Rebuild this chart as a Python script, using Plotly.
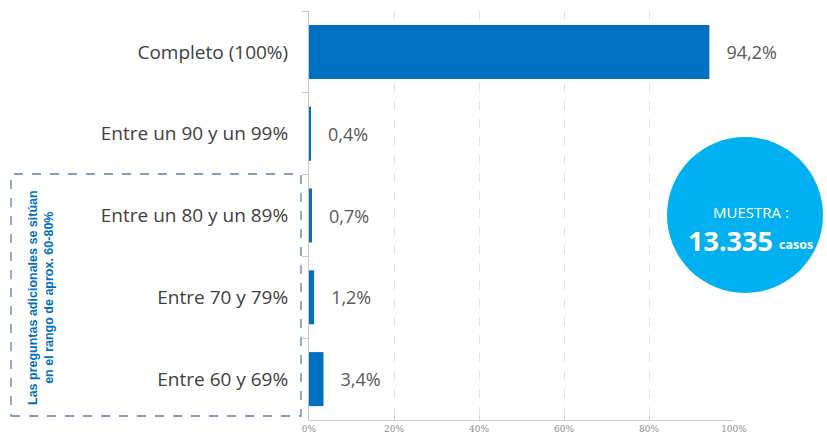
import plotly.graph_objects as go

categories = ["Completo (100%)", "Entre un 90 y un 99%", "Entre un 80 y un 89%",
              "Entre 70 y 79%", "Entre 60 y 69%"]
values = [94.2, 0.4, 0.7, 1.2, 3.4]
x_ticks = [0, 20, 40, 60, 80, 100]
x_ticklabels = ["0%", "20%", "40%", "60%", "80%", "100%"]
labels = ["\u00a0\u00a0\u00a0" + f"{v:.1f}".replace(".", ",") + "%" for v in values]

W, H = 827, 439
L, R, T, B = 309, 93, 11, 19
pw, ph = W - L - R, H - T - B

def px(x):
    return (x - L) / pw

def py(y):
    return (H - B - y) / ph

fig = go.Figure(go.Bar(
    x=values, y=categories, orientation="h",
    marker=dict(color="#0070C0", line=dict(width=0)),
    text=labels, textposition="outside", cliponaxis=False,
    textfont=dict(size=18, color="#595959", family="Open Sans, sans-serif"),
))

fig.update_layout(
    width=W, height=H, margin=dict(l=L, r=R, t=T, b=B, autoexpand=False),
    plot_bgcolor="white", paper_bgcolor="white", showlegend=False,
    bargap=0.34,
    xaxis=dict(range=[0, 100], tickvals=x_ticks, ticktext=x_ticklabels,
               showgrid=True, gridcolor="#e3e3e3", griddash="dash", gridwidth=1,
               zeroline=False, showline=True, linecolor="#d0d0d0",
               ticks="inside", ticklen=4, tickcolor="#d0d0d0",
               tickfont=dict(size=9, color="#8c8c8c", family="DejaVu Serif, serif")),
    yaxis=dict(autorange="reversed", showline=True, linecolor="#c8c8c8",
               ticks="outside", tickson="boundaries", ticklen=6, tickcolor="#c8c8c8",
               tickfont=dict(size=19, color="#404040", family="Open Sans, sans-serif"),
               ticklabelstandoff=16),
)

# dashed box
fig.add_shape(type="rect", xref="paper", yref="paper",
              x0=px(11), x1=px(301), y0=py(416), y1=py(174),
              line=dict(color="#5b7fae", width=1.3, dash="dash"), layer="above")
fig.add_annotation(xref="paper", yref="paper", x=px(41), y=py(298),
                   xanchor="center", yanchor="middle",
                   text="<b>Las preguntas adicionales se sitúan<br>en el rango de aprox. 60-80%</b>",
                   textangle=-90, showarrow=False,
                   font=dict(size=12.5, color="#0070C0",
                             family="Liberation Sans Narrow, Arial Narrow, sans-serif"))

# circle
fig.add_shape(type="circle", xref="paper", yref="paper",
              x0=px(667), x1=px(823), y0=py(293), y1=py(137),
              fillcolor="#00B0F0", line=dict(width=0), layer="above")
fig.add_annotation(xref="paper", yref="paper", x=px(751), y=py(212),
                   xanchor="center", yanchor="middle",
                   text="MUESTRA :", showarrow=False,
                   font=dict(size=15, color="white", family="Open Sans, sans-serif"))
fig.add_annotation(xref="paper", yref="paper", x=px(775), y=py(240),
                   xanchor="right", yanchor="middle",
                   text="<b>13.335</b>", showarrow=False,
                   font=dict(size=27, color="white", family="Open Sans, sans-serif"))
fig.add_annotation(xref="paper", yref="paper", x=px(777), y=py(244),
                   xanchor="left", yanchor="middle",
                   text="<b>casos</b>", showarrow=False,
                   font=dict(size=12.5, color="white", family="Open Sans, sans-serif"))

fig.write_html("out.html", config={"displayModeBar": False},
               post_script="document.body.style.margin='0';document.body.style.overflow='hidden';")
